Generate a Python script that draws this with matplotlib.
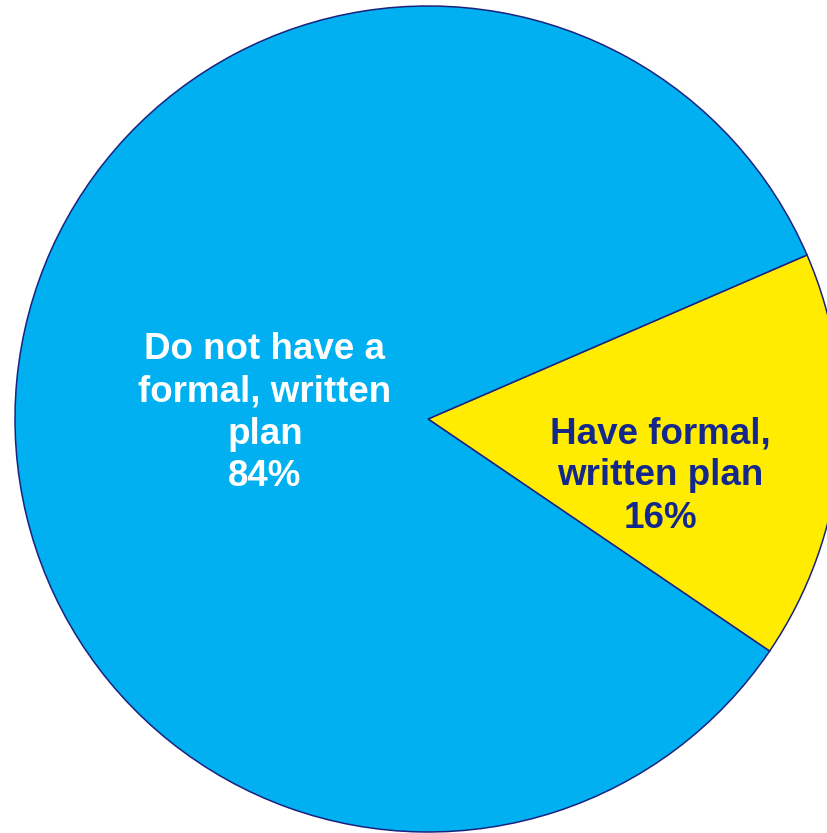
import matplotlib
matplotlib.use("Agg")
import matplotlib.pyplot as plt

labels = ["Have formal,\nwritten plan\n16%", "Do not have a\nformal, written\nplan\n84%"]
values = [16, 84]
colors = ["#FFEC00", "#00B0F0"]
text_colors = ["#14288C", "white"]

plt.rcParams['font.family'] = ['Liberation Sans', 'DejaVu Sans']

fig = plt.figure(figsize=(8.28, 8.33), dpi=100)
ax = fig.add_axes([0, 0, 1, 1])

# pie centre sits at pixel (428, 419), radius about 413 px
r = 413.0
cx, cy = 428.0, 419.0
wedges, _ = ax.pie(values, colors=colors, startangle=-34.2, counterclock=True,
                   radius=1.0, center=(0, 0),
                   wedgeprops=dict(edgecolor="#1A237E", linewidth=1.1))
ax.set_aspect('auto')
ax.set_xlim(-cx / r, (828 - cx) / r)
ax.set_ylim(-(833 - cy) / r, cy / r)
ax.axis('off')

label_pos = [((660 - cx) / r, -(476 - cy) / r), ((265 - cx) / r, -(413 - cy) / r)]
for lab, (x, y), c in zip(labels, label_pos, text_colors):
    ax.text(x, y, lab, ha='center', va='center', color=c, fontsize=26.5,
            fontweight='bold', linespacing=1.27)

fig.savefig("out.png", dpi=100)
